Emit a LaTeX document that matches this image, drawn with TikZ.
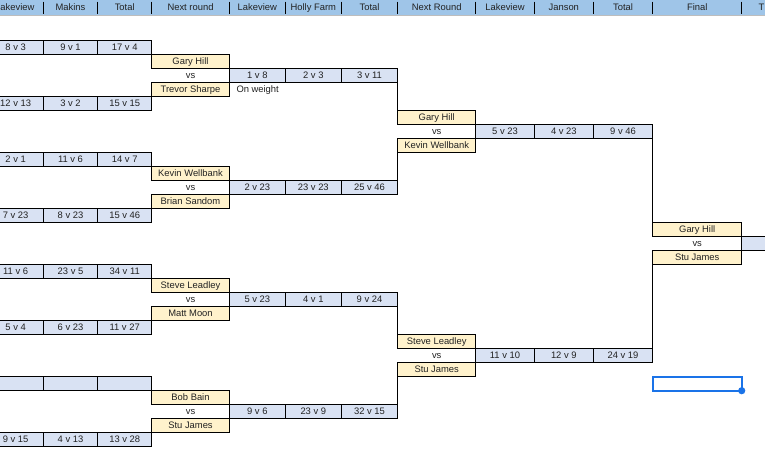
\documentclass[tikz,border=0pt]{standalone}
\usepackage{fontspec}
\setmainfont{Liberation Sans}
\definecolor{hdrblue}{HTML}{9FC5E8}
\definecolor{scoreblue}{HTML}{D9E2F3}
\definecolor{nameyellow}{HTML}{FFF2CC}
\definecolor{txt}{HTML}{222222}
\definecolor{selblue}{HTML}{1A73E8}
\definecolor{hdrline}{HTML}{BDBDBD}
\newcommand\fs{\fontsize{9.4}{11}\selectfont}
\newcommand\gcell[6]{%
  \pgfmathsetmacro\cw{#3-(#2)}%
  \pgfmathsetmacro\cy{40.7+14*#4}%
  \node[#5,minimum width=\cw pt,anchor=north west] (#1) at (#2,\cy) {#6};}
\begin{document}
\begin{tikzpicture}[x=1pt,y=-1pt,
  txtstyle/.style={font=\fs,text=txt,inner sep=0pt,outer sep=0pt,text height=6.9pt,text depth=1.9pt},
  base/.style={txtstyle,minimum height=14pt},
  score/.style={base,draw=black,line width=1pt,fill=scoreblue},
  player/.style={base,draw=black,line width=1pt,fill=nameyellow},
  plain/.style={base},
  hdr/.style={inner sep=0pt,outer sep=0pt,minimum height=15pt,fill=hdrblue},
  link/.style={draw=black,line width=1pt}]
\useasboundingbox (0,0) rectangle (765,466);
\clip (0,0) rectangle (765,466);
\fill[white] (0,0) rectangle (765,466);
% header
\node[hdr,minimum width=777pt,anchor=north west] (hband) at (-12,0) {};
\node[txtstyle,anchor=west] (h0) at (0.5,8) {akeview};
\foreach \a/\b/\t [count=\i] in {43.3/97.7/Makins,97.7/151.7/Total,151.7/229.3/Next round,229.3/285.3/Lakeview,285.3/341.3/Holly Farm,341.3/397.7/Total,397.7/475.7/Next Round,475.7/534.3/Lakeview,534.3/593.3/Janson,593.3/652.7/Total,652.7/741.7/Final}
  \node[txtstyle] (h\i) at ({(\a+\b)/2},8) {\t};
\node[txtstyle,anchor=west] (h12) at (758.6,8) {T};
\foreach \x in {43.3,97.7,151.7,229.3,285.3,341.3,397.7,475.7,534.3,593.3,652.7,741.7}
  \draw[line width=1pt,black] (\x,1.5) -- (\x,14);
\draw[hdrline,line width=1.2pt] (0,15.2) -- (765,15.2);
% round 1 scores
\foreach \r/\a/\b/\c/\k in {0/8 v 3/9 v 1/17 v 4/a,4/12 v 13/3 v 2/15 v 15/b,8/2 v 1/11 v 6/14 v 7/c,12/7 v 23/8 v 23/15 v 46/d,16/11 v 6/23 v 5/34 v 11/e,20/5 v 4/6 v 23/11 v 27/f,24/{}/{}/{}/g,28/9 v 15/4 v 13/13 v 28/h}{
  \gcell{r1\k x}{-12}{43.3}{\r}{score}{\a}
  \gcell{r1\k y}{43.3}{97.7}{\r}{score}{\b}
  \gcell{r1\k t}{97.7}{151.7}{\r}{score}{\c}
}
% round 1 pairings
\foreach \r/\p/\q/\k in {1/Gary Hill/Trevor Sharpe/a,9/Kevin Wellbank/Brian Sandom/b,17/Steve Leadley/Matt Moon/c,25/Bob Bain/Stu James/d}{
  \gcell{p1\k u}{151.7}{229.3}{\r}{player}{\p}
  \pgfmathtruncatemacro\rv{\r+1}\pgfmathtruncatemacro\rl{\r+2}
  \gcell{p1\k v}{151.7}{229.3}{\rv}{plain}{vs}
  \gcell{p1\k l}{151.7}{229.3}{\rl}{player}{\q}
}
% round 2 scores
\foreach \r/\a/\b/\c/\k in {2/1 v 8/2 v 3/3 v 11/a,10/2 v 23/23 v 23/25 v 46/b,18/5 v 23/4 v 1/9 v 24/c,26/9 v 6/23 v 9/32 v 15/d}{
  \gcell{r2\k x}{229.3}{285.3}{\r}{score}{\a}
  \gcell{r2\k y}{285.3}{341.3}{\r}{score}{\b}
  \gcell{r2\k t}{341.3}{397.7}{\r}{score}{\c}
}
\node[txtstyle,anchor=west] (onw) at (236.5,{40.7+14*3+7}) {On weight};
% round 2 pairings
\foreach \r/\p/\q/\k in {5/Gary Hill/Kevin Wellbank/a,21/Steve Leadley/Stu James/b}{
  \gcell{p2\k u}{397.7}{475.7}{\r}{player}{\p}
  \pgfmathtruncatemacro\rv{\r+1}\pgfmathtruncatemacro\rl{\r+2}
  \gcell{p2\k v}{397.7}{475.7}{\rv}{plain}{vs}
  \gcell{p2\k l}{397.7}{475.7}{\rl}{player}{\q}
}
% round 3 scores
\foreach \r/\a/\b/\c/\k in {6/5 v 23/4 v 23/9 v 46/a,22/11 v 10/12 v 9/24 v 19/b}{
  \gcell{r3\k x}{475.7}{534.3}{\r}{score}{\a}
  \gcell{r3\k y}{534.3}{593.3}{\r}{score}{\b}
  \gcell{r3\k t}{593.3}{652.7}{\r}{score}{\c}
}
% final
\gcell{fu}{652.7}{741.7}{13}{player}{Gary Hill}
\gcell{fv}{652.7}{741.7}{14}{plain}{vs}
\gcell{fl}{652.7}{741.7}{15}{player}{Stu James}
\gcell{fs}{741.7}{790}{14}{score}{}
% connectors
\draw[link] (r2at.south east) -- (p2au.north west);
\draw[link] (p2al.south west) -- (r2bt.north east);
\draw[link] (r2ct.south east) -- (p2bu.north west);
\draw[link] (p2bl.south west) -- (r2dt.north east);
\draw[link] (r3at.south east) -- (fu.north west);
\draw[link] (fl.south west) -- (r3bt.north east);
% selection
\gcell{sel}{652.7}{741.7}{24}{base,draw=selblue,line width=2pt}{}
\fill[selblue] (sel.south east) circle (3.6);
\end{tikzpicture}
\end{document}
